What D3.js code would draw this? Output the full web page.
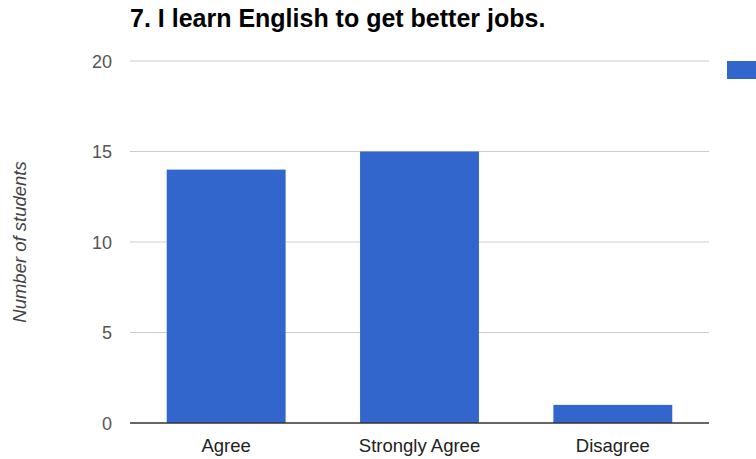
<!DOCTYPE html>
<html><head><meta charset="utf-8">
<script src="https://cdn.jsdelivr.net/npm/d3@7"></script>
<style>body{margin:0;background:#fff;}svg{display:block;font-family:"Liberation Sans",Arial,sans-serif;}</style>
</head><body>
<svg id="c" width="756" height="459"></svg>
<script>
const categories = ["Agree", "Strongly Agree", "Disagree"];
const values = [14, 15, 1];
const yTicks = [0, 5, 10, 15, 20];
const title = "7. I learn English to get better jobs.";
const yTitle = "Number of students";

const svg = d3.select("#c");
const pLeft = 130, pRight = 709, pTop = 61, pBottom = 423;
const x = d3.scaleBand().domain(categories).range([pLeft, pRight]).paddingInner(0.385).paddingOuter(0.19);
const y = d3.scaleLinear().domain([0, 20]).range([pBottom, pTop]);

svg.append("text").attr("x", 130).attr("y", 27).attr("font-size", 25).attr("font-weight", "bold")
  .attr("fill", "#000").text(title);

const grid = svg.append("g");
grid.selectAll("line").data(yTicks.filter(d => d > 0)).join("line")
  .attr("x1", pLeft).attr("x2", pRight).attr("y1", d => y(d)).attr("y2", d => y(d))
  .attr("stroke", "#cccccc").attr("stroke-width", 1);

const yAxis = d3.axisLeft(y).tickValues(yTicks).tickSize(0).tickPadding(0);
const gy = svg.append("g").attr("transform", `translate(${pLeft - 18},0)`).call(yAxis);
gy.select(".domain").remove();
gy.selectAll("text").attr("font-size", 18).attr("fill", "#555").attr("font-family", "Liberation Sans, Arial, sans-serif").attr("dy", "0.36em");

svg.append("g").selectAll("rect").data(values).join("rect")
  .attr("x", (d, i) => x(categories[i])).attr("width", x.bandwidth())
  .attr("y", d => y(d)).attr("height", d => y(0) - y(d)).attr("fill", "#3366cc");

svg.append("line").attr("x1", pLeft).attr("x2", pRight).attr("y1", y(0)).attr("y2", y(0))
  .attr("stroke", "#333").attr("stroke-width", 1.5);

const xAxis = d3.axisBottom(x).tickSize(0).tickPadding(0);
const gx = svg.append("g").attr("transform", `translate(0,${pBottom + 29})`).call(xAxis);
gx.select(".domain").remove();
gx.selectAll("text").attr("font-size", 18.5).attr("fill", "#222").attr("font-family", "Liberation Sans, Arial, sans-serif").attr("y", 0).attr("dy", "0");

svg.append("text").attr("transform", `translate(26,242) rotate(-90)`).attr("text-anchor", "middle")
  .attr("font-size", 18.5).attr("font-style", "italic").attr("fill", "#444").text(yTitle);

// legend swatch (label cut off at the right edge)
svg.append("rect").attr("x", 727).attr("y", 61).attr("width", 40).attr("height", 18).attr("fill", "#3366cc");
</script>
</body></html>
